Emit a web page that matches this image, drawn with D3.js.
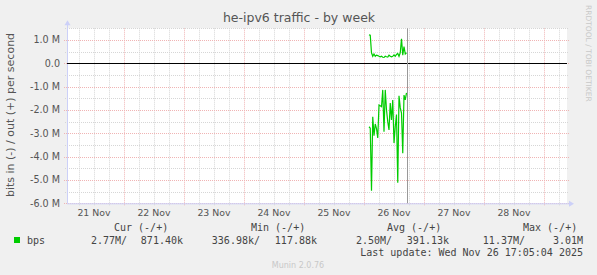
<!DOCTYPE html>
<html>
<head>
<meta charset="utf-8">
<script src="https://cdn.jsdelivr.net/npm/d3@7"></script>
<style>
  body { margin: 0; background: #f0f0f0; }
  svg { display: block; }
</style>
</head>
<body>
<div class="output"><svg width="597" height="275"></svg></div>
<script>
// samples from 26 Nov, every 30 min
var sampleTimes = ["02:00","02:30","03:00","03:30","04:00","04:30","05:00","05:30",
  "06:00","06:30","07:00","07:30","08:00","08:30","09:00","09:30","10:00","10:30",
  "11:00","11:30","12:00","12:30","13:00","13:30","14:00","14:30","15:00","15:30",
  "16:00","16:30","17:00"];
// bits out (+), in M
var outValues = [1.22, 1.20, 0.45, 0.30, 0.40, 0.30, 0.35, 0.33, 0.30, 0.28, 0.30, 0.26,
  0.25, 0.30, 0.28, 0.27, 0.35, 0.30, 0.28, 0.30, 0.36, 0.30, 0.38, 0.42, 0.30, 0.45,
  1.05, 0.35, 0.72, 0.40, 0.45];
// bits in (-), in M, drawn below zero
var inValues = [2.72, 2.78, 5.46, 2.29, 3.10, 2.60, 2.80, 3.20, 1.79, 1.82, 1.86, 1.14,
  2.93, 1.14, 2.00, 2.50, 2.86, 1.70, 2.43, 1.57, 3.42, 2.71, 2.20, 5.12, 1.39, 1.90,
  2.13, 3.85, 1.36, 1.57, 1.27];

var dayLabels = ["21 Nov","22 Nov","23 Nov","24 Nov","25 Nov","26 Nov","27 Nov","28 Nov"];
var yTicks = [1, 0, -1, -2, -3, -4, -5, -6];
var yTickLabels = ["1.0 M","0.0","-1.0 M","-2.0 M","-3.0 M","-4.0 M","-5.0 M","-6.0 M"];

var legendHeads = ["Cur (-/+)","Min (-/+)","Avg (-/+)","Max (-/+)"];
var legendIn = ["2.77M/","336.98k/","2.50M/","11.37M/"];
var legendOut = ["871.40k","117.88k","391.13k","3.01M"];
var lastUpdate = "Last update: Wed Nov 26 17:05:04 2025";
var nowTime = new Date(2025, 10, 26, 17, 5);

var svg = d3.select("div.output svg");
var sans = "DejaVu Sans, sans-serif";
var mono = "DejaVu Sans Mono, monospace";

// plot box (note: "top" is taken by window.top)
var pLeft = 67, pRight = 567, pTop = 28.3, pBottom = 203.3;

var x = d3.scaleTime()
  .domain([new Date(2025, 10, 21, 1, 12), new Date(2025, 10, 29, 9, 12)])
  .range([pLeft, pRight]);
var y = d3.scaleLinear()
  .domain([-6, 1.5])
  .range([pBottom, pTop]);

svg.append("rect")
  .attr("x", pLeft).attr("y", pTop)
  .attr("width", pRight - pLeft).attr("height", pBottom - pTop)
  .style("fill", "#ffffff");

// minor grid
var minorX = d3.timeHour.every(6).range(x.domain()[0], x.domain()[1])
  .filter(function(d) { return d.getHours() != 0; });
svg.selectAll("line.vminor").data(minorX).enter().append("line")
  .attr("x1", function(d) { return Math.round(x(d)) + 0.5; })
  .attr("x2", function(d) { return Math.round(x(d)) + 0.5; })
  .attr("y1", pTop).attr("y2", pBottom + 2)
  .style("stroke", "#d6d6d6").style("stroke-dasharray", "1,1");

var minorY = d3.range(-5.5, 1.6, 1);
svg.selectAll("line.hminor").data(minorY).enter().append("line")
  .attr("x1", pLeft - 2).attr("x2", pRight + 2)
  .attr("y1", function(d) { return Math.round(y(d)) + 0.5; })
  .attr("y2", function(d) { return Math.round(y(d)) + 0.5; })
  .style("stroke", "#d6d6d6").style("stroke-dasharray", "1,1");

// major grid
var majorX = d3.timeDay.range(x.domain()[0], x.domain()[1]);
svg.selectAll("line.vmajor").data(majorX).enter().append("line")
  .attr("x1", function(d) { return Math.round(x(d)) + 0.5; })
  .attr("x2", function(d) { return Math.round(x(d)) + 0.5; })
  .attr("y1", pTop).attr("y2", pBottom + 2)
  .style("stroke", "#f0b4b4").style("stroke-dasharray", "1,1");

svg.selectAll("line.hmajor").data(yTicks).enter().append("line")
  .attr("x1", pLeft - 3).attr("x2", pRight + 2)
  .attr("y1", function(d) { return Math.round(y(d)) + 0.5; })
  .attr("y2", function(d) { return Math.round(y(d)) + 0.5; })
  .style("stroke", "#f0b4b4").style("stroke-dasharray", "1,1");

svg.selectAll("text.ytick").data(yTicks).enter().append("text")
  .text(function(d, i) { return yTickLabels[i]; })
  .attr("x", 60)
  .attr("y", function(d) { return y(d) + 3.5; })
  .attr("text-anchor", "end")
  .style("font-family", sans).style("font-size", "9.6px").style("fill", "#555");

svg.selectAll("text.xtick").data(dayLabels).enter().append("text")
  .text(function(d) { return d; })
  .attr("x", function(d, i) { return x(new Date(2025, 10, 21 + i, 12)); })
  .attr("y", 216)
  .attr("text-anchor", "middle")
  .style("font-family", sans).style("font-size", "9.4px").style("fill", "#555");

// axes with arrows
svg.append("line")
  .attr("x1", pLeft + 0.5).attr("x2", pLeft + 0.5).attr("y1", pBottom).attr("y2", pTop - 4)
  .style("stroke", "#ccd0f8");
svg.append("line")
  .attr("x1", pLeft).attr("x2", pRight + 4).attr("y1", pBottom + 0.5).attr("y2", pBottom + 0.5)
  .style("stroke", "#ccd0f8");
svg.append("path")
  .attr("d", "M" + (pLeft - 2.5) + "," + (pTop - 3) + "L" + (pLeft + 0.5) + "," + (pTop - 8) +
    "L" + (pLeft + 3.5) + "," + (pTop - 3) + "Z")
  .style("fill", "#ccd0f8");
svg.append("path")
  .attr("d", "M" + (pRight + 2) + "," + (pBottom - 2.5) + "L" + (pRight + 7) + "," + (pBottom + 0.5) +
    "L" + (pRight + 2) + "," + (pBottom + 3.5) + "Z")
  .style("fill", "#ccd0f8");

// zero line
svg.append("line")
  .attr("x1", pLeft).attr("x2", pRight)
  .attr("y1", Math.round(y(0)) + 0.5).attr("y2", Math.round(y(0)) + 0.5)
  .style("stroke", "#000").style("stroke-width", 1.2);

// data
var parseT = function(t) {
  var p = t.split(":");
  return new Date(2025, 10, 26, Number(p[0]), Number(p[1]));
};
var line = d3.line()
  .x(function(d) { return x(d.t); })
  .y(function(d) { return y(d.v); });

var outData = sampleTimes.map(function(t, i) { return { t: parseT(t), v: outValues[i] }; });
var inData = sampleTimes.map(function(t, i) { return { t: parseT(t), v: -inValues[i] }; });

svg.append("path").datum(inData).attr("d", line)
  .style("fill", "none").style("stroke", "#00cc00").style("stroke-width", 1.2);
svg.append("path").datum(outData).attr("d", line)
  .style("fill", "none").style("stroke", "#00cc00").style("stroke-width", 1.2);

// now line
svg.append("line")
  .attr("x1", Math.round(x(nowTime)) + 0.5).attr("x2", Math.round(x(nowTime)) + 0.5)
  .attr("y1", pTop).attr("y2", pBottom)
  .style("stroke", "#999");

// titles
svg.append("text").text("he-ipv6 traffic - by week")
  .attr("x", 299).attr("y", 22).attr("text-anchor", "middle")
  .style("font-family", sans).style("font-size", "12.5px").style("fill", "#555");

svg.append("text").text("bits in (-) / out (+) per second")
  .attr("transform", "translate(14,115) rotate(-90)")
  .attr("text-anchor", "middle")
  .style("font-family", sans).style("font-size", "11px").style("fill", "#555");

svg.append("text").text("RRDTOOL / TOBI OETIKER")
  .attr("transform", "translate(586,5) rotate(90)")
  .style("font-family", sans).style("font-size", "7.5px").style("fill", "#c8c8c8");

// legend
var headX = [114, 251, 387, 523];
var inX = [127, 260, 392, 525];
var outX = [183, 317, 449, 583];

svg.selectAll("text.lhead").data(legendHeads).enter().append("text")
  .text(function(d) { return d; })
  .attr("x", function(d, i) { return headX[i]; }).attr("y", 231)
  .style("font-family", mono).style("font-size", "10px").style("fill", "#444");

svg.append("rect")
  .attr("x", 14).attr("y", 237).attr("width", 6).attr("height", 6)
  .style("fill", "#00cc00");
svg.append("text").text("bps")
  .attr("x", 27).attr("y", 244)
  .style("font-family", mono).style("font-size", "10px").style("fill", "#444");

svg.selectAll("text.lin").data(legendIn).enter().append("text")
  .text(function(d) { return d; })
  .attr("x", function(d, i) { return inX[i]; }).attr("y", 244)
  .attr("text-anchor", "end")
  .style("font-family", mono).style("font-size", "10px").style("fill", "#444");
svg.selectAll("text.lout").data(legendOut).enter().append("text")
  .text(function(d) { return d; })
  .attr("x", function(d, i) { return outX[i]; }).attr("y", 244)
  .attr("text-anchor", "end")
  .style("font-family", mono).style("font-size", "10px").style("fill", "#444");

svg.append("text").text(lastUpdate)
  .attr("x", 583).attr("y", 256).attr("text-anchor", "end")
  .style("font-family", mono).style("font-size", "10px").style("fill", "#444");

svg.append("text").text("Munin 2.0.76")
  .attr("x", 298).attr("y", 268).attr("text-anchor", "middle")
  .style("font-family", sans).style("font-size", "8px").style("fill", "#c8c8c8");
</script>
</body>
</html>
